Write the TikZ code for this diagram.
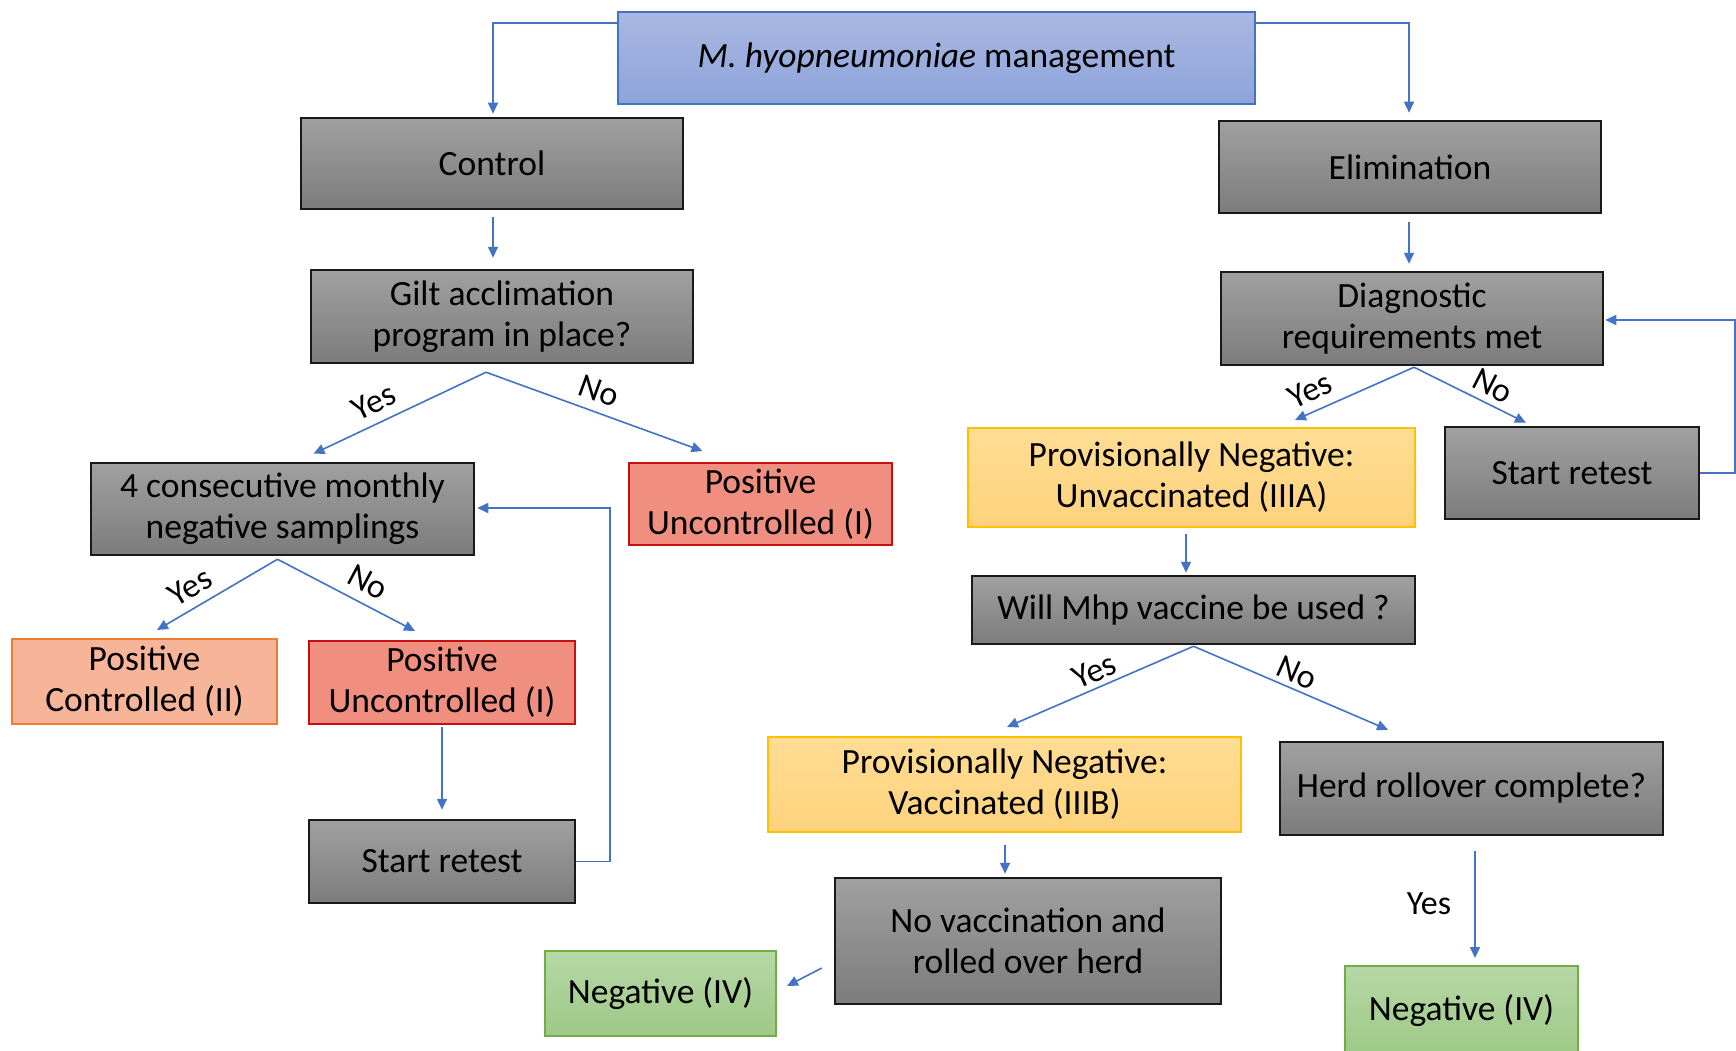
\documentclass[tikz,border=0pt]{standalone}
\usepackage{fontspec}
\setmainfont{Carlito}
\usetikzlibrary{arrows.meta,calc}
\definecolor{gtop}{RGB}{160,160,160}
\definecolor{gbot}{RGB}{124,124,124}
\definecolor{btop}{RGB}{170,184,226}
\definecolor{bbot}{RGB}{140,163,218}
\definecolor{bdraw}{RGB}{68,114,196}
\definecolor{rfill}{RGB}{240,142,127}
\definecolor{rdraw}{RGB}{200,16,16}
\definecolor{ofill}{RGB}{246,180,152}
\definecolor{odraw}{RGB}{237,125,49}
\definecolor{ytop}{RGB}{255,221,148}
\definecolor{ybot}{RGB}{254,210,124}
\definecolor{ydraw}{RGB}{255,192,0}
\definecolor{gntop}{RGB}{182,215,166}
\definecolor{gnbot}{RGB}{158,201,134}
\definecolor{gndraw}{RGB}{112,173,71}
\definecolor{arrblue}{RGB}{68,114,196}
\begin{document}
\begin{tikzpicture}[x=1pt,y=-1pt,
  box/.style={rectangle, inner sep=0pt, align=center, font=\fontsize{35.5}{41}\selectfont, text=black, execute at begin node={\vspace*{6pt}}},
  graybox/.style={box, top color=gtop, bottom color=gbot, draw=black!90, line width=2.5pt},
  bluebox/.style={box, top color=btop, bottom color=bbot, draw=bdraw, line width=2pt},
  redbox/.style={box, fill=rfill, draw=rdraw, line width=2pt},
  orangebox/.style={box, fill=ofill, draw=odraw, line width=2pt},
  yellowbox/.style={box, top color=ytop, bottom color=ybot, draw=ydraw, line width=2pt},
  greenbox/.style={box, top color=gntop, bottom color=gnbot, draw=gndraw, line width=2pt},
  arr/.style={draw=arrblue, line width=1.6pt, -{Triangle[length=11pt,width=10pt]}},
  lab/.style={font=\fontsize{34}{38}\selectfont, text=black, inner sep=0pt}
]
\useasboundingbox (0,0) rectangle (1736,1051);
\clip (0,0) rectangle (1736,1051);
\fill[white] (0,0) rectangle (1736,1051);

% nodes
\node[bluebox, minimum width=637pt, minimum height=92pt] (top) at (936.5,58) {{\itshape M. hyopneumoniae} management};
\node[graybox, minimum width=382pt, minimum height=91pt] (control) at (492,163.5) {Control};
\node[graybox, minimum width=382pt, minimum height=92pt] (elim) at (1410,167) {Elimination};
\node[graybox, minimum width=382pt, minimum height=93pt] (gilt) at (502,316.5) {Gilt acclimation\\program in place?};
\node[graybox, minimum width=382pt, minimum height=93pt] (diag) at (1412,318.5) {Diagnostic\\requirements met};
\node[graybox, minimum width=383pt, minimum height=92pt] (four) at (282.5,509) {4 consecutive monthly\\negative samplings};
\node[redbox, minimum width=263pt, minimum height=82pt] (posUa) at (760.5,504) {Positive\\Uncontrolled (I)};
\node[yellowbox, minimum width=447pt, minimum height=99pt] (pnu) at (1191.5,477.5) {Provisionally Negative:\\Unvaccinated (IIIA)};
\node[graybox, minimum width=254pt, minimum height=92pt] (retR) at (1572,473) {Start retest};
\node[graybox, minimum width=443pt, minimum height=68pt] (mhp) at (1193.5,610) {Will Mhp vaccine be used ?};
\node[orangebox, minimum width=265pt, minimum height=85pt] (posC) at (144.5,681.5) {Positive\\Controlled (II)};
\node[redbox, minimum width=266pt, minimum height=83pt] (posUb) at (442,682.5) {Positive\\Uncontrolled (I)};
\node[graybox, minimum width=266pt, minimum height=83pt] (retL) at (442,861.5) {Start retest};
\node[yellowbox, minimum width=473pt, minimum height=95pt] (pnv) at (1004.5,784.5) {Provisionally Negative:\\Vaccinated (IIIB)};
\node[graybox, minimum width=383pt, minimum height=93pt] (herd) at (1471.5,788.5) {Herd rollover complete?};
\node[graybox, minimum width=386pt, minimum height=126pt] (novac) at (1028,941) {No vaccination and\\rolled over herd};
\node[greenbox, minimum width=231pt, minimum height=85pt] (negL) at (660.5,993.5) {Negative (IV)};
\node[greenbox, minimum width=233pt, minimum height=90pt] (negR) at (1461.5,1011) {Negative (IV)};

% top connectors
\draw[arr] ($(top.west)+(0,-35)$) -| ($(control.north)+(1,-3)$);
\draw[arr] ($(top.east)+(0,-35)$) -| ($(elim.north)+(-1,-7)$);
\draw[arr] ($(control.south)+(1,7)$) -- ($(gilt.north)+(-9,-11)$);
\draw[arr] ($(elim.south)+(-1,8)$) -- ($(diag.north)+(-3,-7)$);

% gilt branches
\coordinate (gO) at ($(gilt.south)+(-16,8)$);
\draw[arr] (gO) -- ($(four.north)+(31,-8)$);
\draw[arr] (gO) -- ($(posUa.north)+(-58,-11)$);
\node[lab, rotate=26] (gy) at (374,402) {Yes};
\node[lab, rotate=-20] (gn) at (599,391) {No};

% four branches
\coordinate (fO) at ($(four.south)+(-5,3)$);
\draw[arr] (fO) -- ($(posC.north)+(12.5,-8)$);
\draw[arr] (fO) -- ($(posUb.north)+(-27,-9)$);
\node[lab, rotate=31] (fy) at (190,587) {Yes};
\node[lab, rotate=-28] (fn) at (368,582) {No};

% left retest loop
\draw[arr] ($(posUb.south)+(0,2)$) -- ($(retL.north)+(0,-9)$);
\draw[arr] (retL.east) -- ++(34,0) |- ($(four.east)+(2,-1)$);

% diagnostic branches
\coordinate (dO) at ($(diag.south)+(2,1)$);
\draw[arr] (dO) -- ($(pnu.north)+(103.5,-7)$);
\draw[arr] (dO) -- ($(retR.north)+(-46,-3)$);
\node[lab, rotate=25] (dy) at (1310,390) {Yes};
\node[lab, rotate=-27] (dn) at (1493,386) {No};
\draw[arr] (retR.east) -- ++(35,0) |- ($(diag.east)+(1,1.5)$);

% vaccine branches
\draw[arr] ($(pnu.south)+(-5.5,6)$) -- ($(mhp.north)+(-7.5,-2)$);
\coordinate (mO) at ($(mhp.south)+(0,1)$);
\draw[arr] (mO) -- ($(pnv.north)+(2.5,-9)$);
\draw[arr] (mO) -- ($(herd.north)+(-83.5,-11)$);
\node[lab, rotate=24] (my) at (1094,671) {Yes};
\node[lab, rotate=-24] (mn) at (1297,673) {No};

\draw[arr] ($(pnv.south)+(0.5,12)$) -- ($(novac.north)+(-23,-3)$);
\draw[arr] ($(novac.west)+(-12,27)$) -- ($(negL.east)+(10,-7.5)$);
\draw[arr] ($(herd.south)+(3.5,15)$) -- ($(negR.north)+(13.5,-7)$);
\node[lab] (hy) at (1429,904) {Yes};
\end{tikzpicture}
\end{document}
